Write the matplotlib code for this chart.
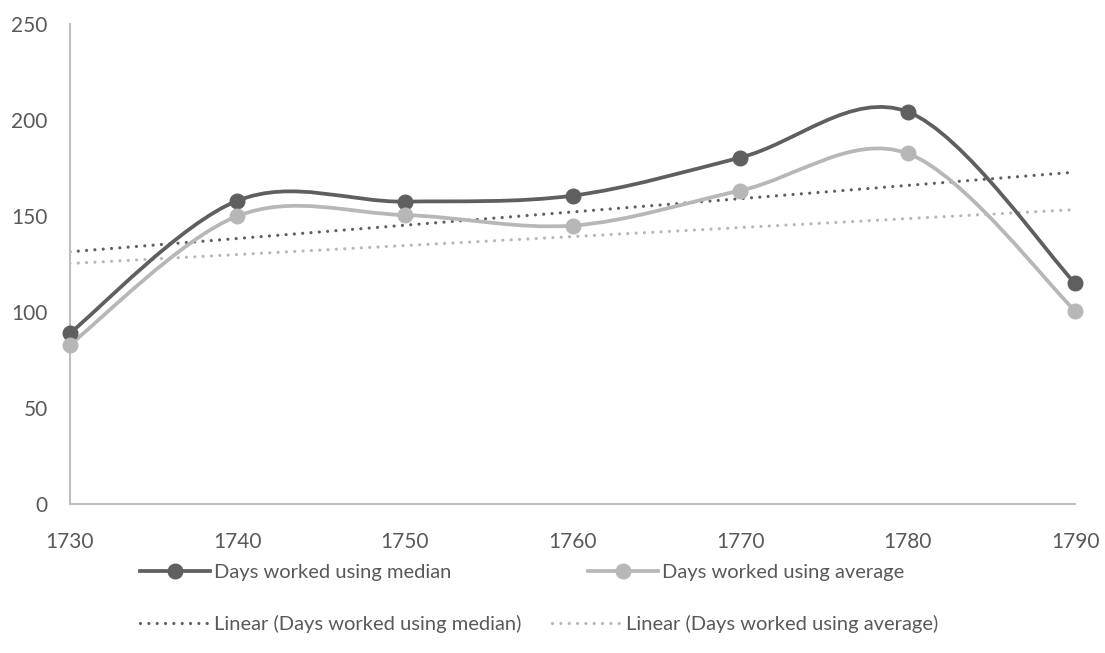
"""Days worked per year, median vs average, with smoothed lines and linear trends."""

import matplotlib
matplotlib.use("Agg")
import matplotlib.pyplot as plt
import numpy as np
from matplotlib.path import Path
from matplotlib.patches import PathPatch
from matplotlib.lines import Line2D

YEARS = [1730, 1740, 1750, 1760, 1770, 1780, 1790]
MEDIAN_DAYS = [89, 158, 157.5, 160.6, 180.4, 204.3, 115]
AVERAGE_DAYS = [83, 150, 150.5, 145, 163.2, 182.6, 100.7]
Y_TICKS = [0, 50, 100, 150, 200, 250]

DARK = "#5f5f5f"
LIGHT = "#b7b7b7"
AXIS = "#bfbfbf"
TEXT = "#595959"
FONT = "Lato"
DOTS = (0, (0.01, 2.6))


def _smooth_path(xs, ys):
    """Catmull-Rom style bezier, like Excel's smoothed line."""
    pts = np.column_stack([xs, ys]).astype(float)
    n = len(pts)
    verts = [pts[0]]
    codes = [Path.MOVETO]
    for i in range(n - 1):
        p0 = pts[i - 1] if i > 0 else pts[i]
        p1 = pts[i]
        p2 = pts[i + 1]
        p3 = pts[i + 2] if i + 2 < n else pts[i + 1]
        c1 = p1 + (p2 - p0) / 6.0
        c2 = p2 - (p3 - p1) / 6.0
        verts += [c1, c2, p2]
        codes += [Path.CURVE4] * 3
    return Path(verts, codes)


fig = plt.figure(figsize=(11.05, 6.53), dpi=100, facecolor="white")
ax = fig.add_axes([0.0633, 0.2282, 0.9096, 0.735])

x = np.array(YEARS, dtype=float)
for vals, color in [(MEDIAN_DAYS, DARK), (AVERAGE_DAYS, LIGHT)]:
    ax.add_patch(PathPatch(_smooth_path(x, vals), facecolor="none",
                           edgecolor=color, lw=2.7, capstyle="round", zorder=3))
    ax.plot(x, vals, ls="none", marker="o", ms=10.5, color=color, zorder=4,
            clip_on=False)

# linear trend lines
for vals, color in [(MEDIAN_DAYS, DARK), (AVERAGE_DAYS, LIGHT)]:
    k, b = np.polyfit(x, vals, 1)
    ax.plot(x[[0, -1]], k * x[[0, -1]] + b, color=color, lw=2.3,
            ls=DOTS, dash_capstyle="round", zorder=2)

ax.set_xlim(1730, 1790)
ax.set_ylim(0, 250)
ax.set_xticks(YEARS)
ax.set_yticks(Y_TICKS)
ax.tick_params(length=0, labelsize=15, labelcolor=TEXT)
ax.tick_params(axis="y", pad=16)
ax.tick_params(axis="x", pad=20)
for lab in ax.get_xticklabels() + ax.get_yticklabels():
    lab.set_fontfamily(FONT)
for side in ("top", "right"):
    ax.spines[side].set_visible(False)
for side in ("left", "bottom"):
    ax.spines[side].set_color(AXIS)
    ax.spines[side].set_linewidth(1.5)

# legend: Excel flows the entries, so place each one on its own
entries = [
    (Line2D([], [], color=DARK, lw=2.7, marker="o", ms=10.5),
     "Days worked using median", 140, 572),
    (Line2D([], [], color=LIGHT, lw=2.7, marker="o", ms=10.5),
     "Days worked using average", 588, 572),
    (Line2D([], [], color=DARK, lw=2.3, ls=DOTS, dash_capstyle="round"),
     "Linear (Days worked using median)", 140, 624),
    (Line2D([], [], color=LIGHT, lw=2.3, ls=DOTS, dash_capstyle="round"),
     "Linear (Days worked using average)", 552, 624),
]
W, H = 1105, 653
for handle, label, px, py in entries:
    leg = fig.legend([handle], [label], loc="center left",
                     bbox_to_anchor=(px / W, 1 - py / H), frameon=False,
                     prop={"family": FONT, "size": 14.5}, labelcolor=TEXT,
                     handlelength=3.5, handletextpad=0.15,
                     borderaxespad=0, borderpad=0)

fig.savefig("out.png", dpi=100, facecolor="white")
